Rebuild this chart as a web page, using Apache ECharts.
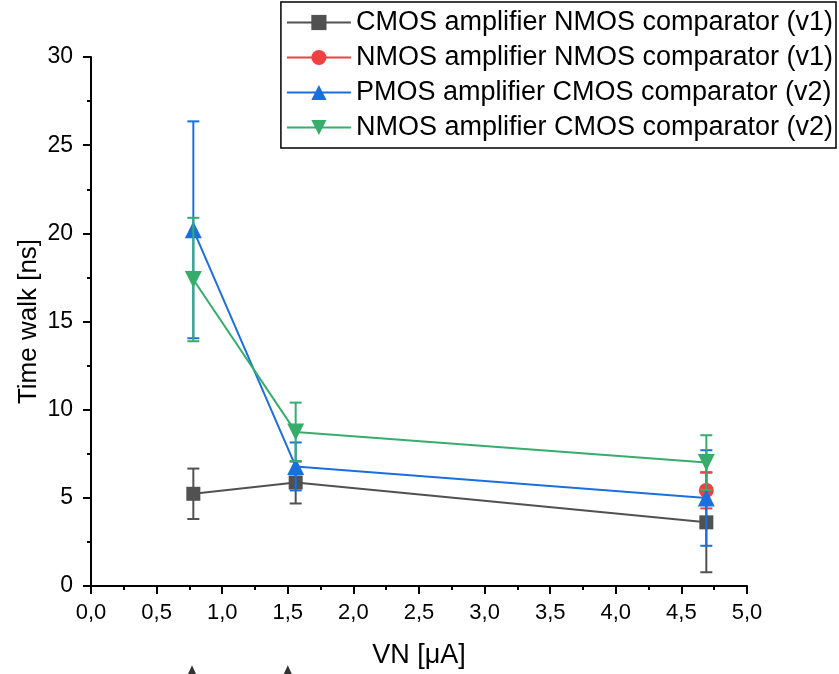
<!DOCTYPE html>
<html>
<head>
<meta charset="utf-8">
<script src="https://cdn.jsdelivr.net/npm/echarts@6/dist/echarts.min.js"></script>
<style>html,body{margin:0;padding:0;background:#fff}#c{width:839px;height:674px}</style>
</head>
<body>
<div id="c"></div>
<script>
// ---- data ----
const seriesNames = [
  'CMOS amplifier NMOS comparator (v1)',
  'NMOS amplifier NMOS comparator (v1)',
  'PMOS amplifier CMOS comparator (v2)',
  'NMOS amplifier CMOS comparator (v2)'
];
const cmosNmosX = [0.78, 1.56, 4.69];
const cmosNmosY = [5.23, 5.87, 3.61];
const cmosNmosErr = [1.43, 1.19, 2.83];

const nmosNmosX = [4.69];
const nmosNmosY = [5.42];
const nmosNmosErr = [1.02];

const pmosCmosX = [0.78, 1.56, 4.69];
const pmosCmosY = [20.2, 6.78, 4.99];
const pmosCmosErr = [6.15, 1.36, 2.71];

const nmosCmosX = [0.78, 1.56, 4.69];
const nmosCmosY = [17.38, 8.74, 7.0];
const nmosCmosErr = [3.5, 1.66, 1.55];

// stray arrow markers below the axis title
const arrowMarkX = [0.77, 1.5];
const arrowMarkY = [-4.8, -4.8];

const xTicks = ['0,0','0,5','1,0','1,5','2,0','2,5','3,0','3,5','4,0','4,5','5,0'];

const colors = ['#515151', '#F14040', '#1A6FDF', '#37AD6B'];
const symbols = ['rect', 'circle', 'triangle', 'path://M0,0 L10,0 L5,9 Z'];
const symbolSizes = [14, 15, 17, 17];

const groups = [
  [cmosNmosX, cmosNmosY, cmosNmosErr],
  [nmosNmosX, nmosNmosY, nmosNmosErr],
  [pmosCmosX, pmosCmosY, pmosCmosErr],
  [nmosCmosX, nmosCmosY, nmosCmosErr]
];

const series = [];
groups.forEach((g, i) => {
  const [xs, ys, es] = g;
  series.push({
    name: seriesNames[i] + ' err',
    type: 'custom',
    z: 2 + i * 2,
    silent: true,
    data: xs.map((x, k) => [x, ys[k] - es[k], ys[k] + es[k]]),
    renderItem: function (params, api) {
      const x = api.value(0);
      const lo = api.coord([x, api.value(1)]);
      const hi = api.coord([x, api.value(2)]);
      const hw = 6;
      const st = { stroke: colors[i], lineWidth: 2 };
      return {
        type: 'group',
        children: [
          { type: 'line', shape: { x1: lo[0], y1: lo[1], x2: hi[0], y2: hi[1] }, style: st },
          { type: 'line', shape: { x1: lo[0] - hw, y1: lo[1], x2: lo[0] + hw, y2: lo[1] }, style: st },
          { type: 'line', shape: { x1: hi[0] - hw, y1: hi[1], x2: hi[0] + hw, y2: hi[1] }, style: st }
        ]
      };
    }
  });
  series.push({
    name: seriesNames[i],
    type: 'line',
    z: 3 + i * 2,
    data: xs.map((x, k) => [x, ys[k]]),
    symbol: symbols[i],
    symbolSize: symbolSizes[i],
    showAllSymbol: true,
    lineStyle: { color: colors[i], width: 2 },
    itemStyle: { color: colors[i] },
    emphasis: { disabled: true }
  });
});
series.push({
  name: 'arrows',
  type: 'scatter',
  clip: false,
  silent: true,
  symbol: 'triangle',
  symbolSize: [10, 11],
  itemStyle: { color: '#000' },
  data: arrowMarkX.map((x, k) => [x, arrowMarkY[k]]),
  z: 1
});

const sans = "'Liberation Sans', Arial, sans-serif";

const option = {
  animation: false,
  backgroundColor: '#fff',
  grid: { left: 91, right: 92, top: 57, bottom: 87, containLabel: false },
  legend: {
    data: seriesNames,
    orient: 'vertical',
    right: 3,
    top: 2,
    itemWidth: 64,
    itemHeight: 19,
    itemGap: 8,
    padding: [7, 3, 7, 5],
    borderColor: '#000',
    borderWidth: 1.5,
    borderRadius: 0,
    backgroundColor: '#fff',
    selectedMode: false,
    textStyle: { fontFamily: sans, fontSize: 27, lineHeight: 27, color: '#000' }
  },
  xAxis: {
    type: 'value',
    min: 0, max: 5, interval: 0.5,
    name: 'VN [μA]',
    nameLocation: 'middle',
    nameGap: 56,
    nameMoveOverlap: false,
    nameTextStyle: { fontFamily: sans, fontSize: 27, color: '#000' },
    axisLine: { show: true, onZero: false, lineStyle: { color: '#000', width: 2 } },
    axisTick: { show: true, inside: false, length: 8, lineStyle: { color: '#000', width: 2 } },
    minorTick: { show: true, splitNumber: 2, length: 4, lineStyle: { color: '#000', width: 2 } },
    splitLine: { show: false },
    axisLabel: { margin: 16, fontFamily: sans, fontSize: 22, color: '#000',
      formatter: function (v) { return xTicks[Math.round(v * 2)]; } }
  },
  yAxis: {
    type: 'value',
    min: 0, max: 30, interval: 5,
    name: 'Time walk [ns]',
    nameLocation: 'middle',
    nameGap: 49,
    nameMoveOverlap: false,
    nameTextStyle: { fontFamily: sans, fontSize: 26, color: '#000' },
    axisLine: { show: true, onZero: false, lineStyle: { color: '#000', width: 2 } },
    axisTick: { show: true, inside: false, length: 8, lineStyle: { color: '#000', width: 2 } },
    minorTick: { show: true, splitNumber: 2, length: 4, lineStyle: { color: '#000', width: 2 } },
    splitLine: { show: false },
    axisLabel: { margin: 18, fontFamily: sans, fontSize: 23, color: '#000' }
  },
  series: series
};

const chart = echarts.init(document.getElementById('c'), null, { renderer: 'canvas' });
chart.setOption(option);
</script>
</body>
</html>
